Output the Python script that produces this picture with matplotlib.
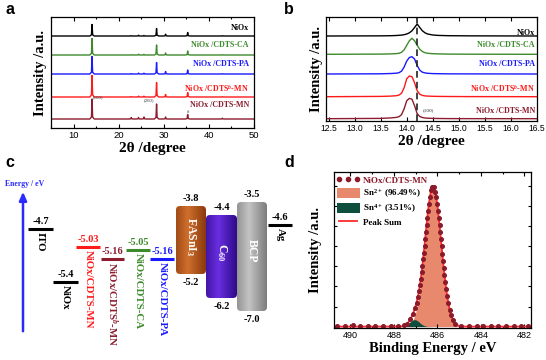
import numpy as np
import matplotlib
matplotlib.use('Agg')
import matplotlib.pyplot as plt
from matplotlib.patches import FancyBboxPatch, Patch
from matplotlib.lines import Line2D
from matplotlib import transforms as mtransforms
from matplotlib.ticker import MultipleLocator, NullFormatter
import matplotlib.colors as mcolors

plt.rcParams['mathtext.fontset'] = 'custom'
plt.rcParams['mathtext.rm'] = 'Liberation Serif:bold'
plt.rcParams['mathtext.it'] = 'Liberation Serif:bold:italic'
plt.rcParams['mathtext.bf'] = 'Liberation Serif:bold'
plt.rcParams['axes.linewidth'] = 0.9

SERIF = 'Liberation Serif'
SANS = 'Liberation Sans'

# ---------------- data ----------------
# panel a : XRD
xrd_labels = ['NiOx', 'NiOx /CDTS-CA', 'NiOx /CDTS-PA', 'NiOx /CDTS$^{b}$-MN', 'NiOx /CDTS-MN']
xrd_colors = ['#000000', '#3d8a2c', '#1a1aff', '#ff1a1a', '#8c1c2e']
xrd_offsets = [92, 73, 54, 31, 9]
xrd_peaks = [14.1, 22.8, 24.4, 25.6, 28.4, 30.4, 35.3, 43.0]
h_nio = [11.5, 0.3, 0.8, 0.5, 7.5, 1.8, 3.5, 0.3]
h_ca = [16.5, 0.3, 0.8, 0.6, 10.0, 2.0, 4.0, 0.3]
h_pa = [17.5, 0.4, 0.9, 0.8, 11.5, 2.5, 4.0, 0.3]
h_mnb = [21.5, 0.4, 0.9, 0.8, 14.5, 2.5, 4.5, 0.3]
h_mn = [20.0, 1.5, 1.5, 2.0, 15.0, 2.0, 4.5, 0.8]
xrd_heights = [h_nio, h_ca, h_pa, h_mnb, h_mn]

# panel b : zoom on (100)
b_x = [12.45, 13.5, 13.7, 13.8, 13.85, 13.9, 13.95, 14.0, 14.05, 14.1, 14.15, 14.2,
       14.25, 14.3, 14.35, 14.4, 14.5, 14.6, 14.8, 15.2, 16.5]
b_nio = [0, 0.15, 0.3, 0.5, 0.7, 0.9, 1.3, 2.0, 3.2, 5.2, 8.5, 12.0, 8.5, 5.2, 3.2, 2.0, 1.0, 0.6, 0.3, 0.15, 0]
b_ca = [0, 0.2, 0.4, 0.7, 1.0, 2.0, 4.5, 9.0, 13.5, 16.0, 13.5, 9.0, 5.0, 2.8, 1.6, 1.0, 0.6, 0.4, 0.2, 0.1, 0]
b_pa = [0, 0.2, 0.5, 0.8, 1.3, 2.8, 7.0, 13.0, 16.5, 17.3, 15.0, 8.5, 3.8, 1.8, 1.1, 0.7, 0.4, 0.3, 0.15, 0.1, 0]
b_mnb = [0, 0.3, 0.6, 1.0, 1.6, 3.5, 9.0, 18.0, 20.7, 20.0, 14.0, 6.0, 2.5, 1.3, 0.8, 0.6, 0.4, 0.3, 0.2, 0.1, 0]
b_mn = [0, 0.3, 0.8, 1.3, 2.0, 4.0, 10.0, 18.0, 20.3, 19.5, 13.0, 5.0, 2.2, 1.2, 0.7, 0.5, 0.3, 0.2, 0.1, 0.05, 0]
b_series = [b_nio, b_ca, b_pa, b_mnb, b_mn]
b_offsets = [85, 66.7, 47, 24.3, 2.3]
ref_100 = 14.2

# panel c : energy levels
lvl_names = ['ITO', 'NiOx', 'NiOx/CDTS-MN', 'NiOx/CDTS$^{b}$-MN', 'NiOx/CDTS-CA', 'NiOx/CDTS-PA', 'Ag']
lvl_E = [-4.7, -5.4, -5.03, -5.16, -5.05, -5.16, -4.6]
lvl_colors = ['#000000', '#000000', '#ff1a1a', '#8c1c2e', '#3d8a2c', '#1a1aff', '#000000']
box_names = ['FASnI$_3$', 'C$_{60}$', 'BCP']
box_top = [-3.8, -4.4, -3.5]
box_bot = [-5.2, -6.2, -7.0]

# panel d : XPS Sn 3d
dot_x = [490.6, 490.25, 489.9, 489.55, 489.2, 488.85, 488.5, 488.15, 487.8, 487.55,
         487.4, 487.24, 487.12, 487.03, 486.96, 486.90, 486.84, 486.80, 486.76, 486.72,
         486.69, 486.66, 486.62, 486.59, 486.56, 486.53, 486.50, 486.47, 486.43, 486.40,
         486.35, 486.29, 486.24, 486.15, 486.09, 486.05, 486.00, 485.97, 485.93, 485.90,
         485.87, 485.84, 485.81, 485.78, 485.75, 485.71, 485.68, 485.64, 485.60, 485.56,
         485.50, 485.44, 485.37, 485.28, 485.17, 484.9, 484.55, 484.2, 483.9, 483.55,
         483.2, 482.85, 482.5, 482.15, 481.85]
dot_y = [0.003, 0.004, 0.012, 0.005, 0.003, 0.003, 0.004, 0.003, 0.006, 0.010,
         0.019, 0.054, 0.093, 0.13, 0.166, 0.21, 0.252, 0.296, 0.341, 0.386,
         0.433, 0.48, 0.527, 0.57, 0.62, 0.67, 0.72, 0.77, 0.82, 0.87,
         0.92, 0.97, 0.995, 0.995, 0.96, 0.92, 0.87, 0.82, 0.77, 0.72,
         0.67, 0.62, 0.57, 0.52, 0.47, 0.42, 0.37, 0.32, 0.27, 0.22,
         0.17, 0.12, 0.08, 0.045, 0.02, 0.004, 0.003, 0.004, 0.003, 0.005,
         0.004, 0.003, 0.005, 0.004, 0.003]
fit_x = [490.8, 487.8, 487.7, 487.6, 487.5, 487.4, 487.3, 487.2, 487.1, 487.0, 486.9,
         486.8, 486.7, 486.6, 486.5, 486.4, 486.3, 486.2, 486.1, 486.0, 485.9, 485.8,
         485.7, 485.6, 485.5, 485.4, 485.3, 485.2, 485.1, 485.0, 484.9, 484.8, 484.7,
         484.6, 481.6]
sn2_fit = [0, 0.0001, 0.0003, 0.0008, 0.0021, 0.0052, 0.0121, 0.026, 0.052, 0.097, 0.167,
           0.269, 0.401, 0.558, 0.720, 0.864, 0.964, 1.0, 0.964, 0.864, 0.720, 0.558,
           0.401, 0.269, 0.167, 0.097, 0.052, 0.026, 0.0121, 0.0052, 0.0021, 0.0008, 0.0003,
           0.0001, 0]
sn4_fit = [0, 0.0002, 0.0006, 0.0022, 0.006, 0.014, 0.026, 0.040, 0.049, 0.049, 0.040,
           0.026, 0.014, 0.006, 0.0022, 0.0006, 0.0002, 0, 0, 0, 0, 0,
           0, 0, 0, 0, 0, 0, 0, 0, 0, 0, 0, 0, 0]
sn2_label = 'Sn$^{2+}$ (96.49%)'
sn4_label = 'Sn$^{4+}$ (3.51%)'

# ---------------- layout ----------------
W, H = 546, 360
fig = plt.figure(figsize=(W / 100, H / 100), dpi=100)
fig.patch.set_facecolor('white')


def px_axes(left, top, right, bottom):
    return fig.add_axes([left / W, 1 - bottom / H, (right - left) / W, (bottom - top) / H])


def style_ticks(ax, size):
    ax.tick_params(axis='both', which='both', direction='in', top=True, right=False,
                   labelsize=size, width=0.8, pad=2.5)
    ax.tick_params(which='major', length=3)
    ax.tick_params(which='minor', length=1.6)
    for t in ax.get_xticklabels():
        t.set_fontfamily(SANS)


lab_font = dict(family=SERIF, weight='bold')

# ---- panel a ----
ax_a = px_axes(51, 17, 254, 128)
for lab, col, off, hs in zip(xrd_labels, xrd_colors, xrd_offsets, xrd_heights):
    xs, ys = [5.0], [0.0]
    for p, h in zip(xrd_peaks, hs):
        xs += [p - 0.5, p - 0.13, p, p + 0.13, p + 0.5]
        ys += [0, 0.1 * h, h, 0.1 * h, 0]
    xs.append(50.0)
    ys.append(0.0)
    ax_a.plot(xs, np.array(ys) + off, color=col, lw=1.0)
ax_a.set_xlim(5, 50)
ax_a.set_ylim(0, 111)
ax_a.set_yticks([])
ax_a.xaxis.set_major_locator(MultipleLocator(10))
ax_a.xaxis.set_minor_locator(MultipleLocator(5))
style_ticks(ax_a, 6.8)
a_text_y = [100.3, 82.7, 63.7, 40, 22.7]
for lab, col, ty in zip(xrd_labels, xrd_colors, a_text_y):
    ax_a.text(0.975, ty, lab, color=col, ha='right', va='center', fontsize=5.8,
              transform=mtransforms.blended_transform_factory(ax_a.transAxes, ax_a.transData),
              **lab_font)
ax_a.text(14.2, 28.5, '(100)', fontsize=3.5, family=SERIF, va='bottom', ha='left', color='#333333')
ax_a.text(27.9, 26, '(200)', fontsize=3.5, family=SERIF, va='bottom', ha='right', color='#333333')
ax_a.text(35.3, 14.5, '#', fontsize=3.5, family=SERIF, va='bottom', ha='center', color='#333333')
ax_a.set_xlabel('2θ /degree', fontsize=11, labelpad=1, **lab_font)
ax_a.set_ylabel('Intensity /a.u.', fontsize=10.5, labelpad=3, **lab_font)

# ---- panel b ----
ax_b = px_axes(326, 17, 537, 121)
for col, off, ys in zip(xrd_colors, b_offsets, b_series):
    ax_b.plot(b_x, np.array(ys) + off, color=col, lw=1.0)
ax_b.axvline(ref_100, color='#222222', lw=1.2, ls=(0, (4, 2.5)))
ax_b.set_xlim(12.45, 16.5)
ax_b.set_ylim(0, 104)
ax_b.set_yticks([])
ax_b.xaxis.set_major_locator(MultipleLocator(0.5))
style_ticks(ax_b, 6.2)
b_text_y = [88.3, 75.7, 56.7, 33, 10.3]
for lab, col, ty in zip(xrd_labels, xrd_colors, b_text_y):
    ax_b.text(0.99, ty, lab, color=col, ha='right', va='center', fontsize=5.8,
              transform=mtransforms.blended_transform_factory(ax_b.transAxes, ax_b.transData),
              **lab_font)
ax_b.text(14.3, 11.3, '(100)', fontsize=3.8, family=SERIF, va='center', ha='left', color='#333333')
ax_b.set_xlabel('2θ /degree', fontsize=11, labelpad=1, **lab_font)
ax_b.set_ylabel('Intensity /a.u.', fontsize=10.5, labelpad=2.5, **lab_font)

# ---- panel c ----
ax_c = px_axes(0, 170, 300, 350)
ax_c.set_axis_off()
E_knots = np.array([-10, -7.0, -6.2, -5.4, -5.2, -5.16, -5.05, -5.03, -4.7, -4.6, -4.4, -3.8, -3.5, -1.0])
Y_knots = np.array([380, 311, 298, 282, 274, 259, 250, 247, 229, 225, 215, 206, 202, 160], dtype=float)


def e_fwd(e):
    return -np.interp(e, E_knots, Y_knots)


def e_inv(t):
    return np.interp(-np.asarray(t), Y_knots[::-1], E_knots[::-1])


ax_c.set_yscale('function', functions=(e_fwd, e_inv))
ax_c.set_xlim(0, 300)
ax_c.set_ylim(float(e_inv(-350)), float(e_inv(-170)))

lvl_x = [(28, 53), (53, 78), (76, 100), (101, 124), (126, 150), (150, 174), (268, 292)]
for name, E, col, (x0, x1) in zip(lvl_names, lvl_E, lvl_colors, lvl_x):
    ax_c.plot([x0, x1], [E, E], color=col, lw=2.2, solid_capstyle='butt')
    xm = 0.5 * (x0 + x1)
    ax_c.annotate('%g' % E, (xm, E), xytext=(0, 2), textcoords='offset points',
                  ha='center', va='bottom', fontsize=7.5, color=col, **lab_font)
    ax_c.annotate(name, (xm, E), xytext=(0, -2.5), textcoords='offset points',
                  ha='center', va='top', rotation=-90, fontsize=7.8, color=col, **lab_font)

# energy arrow
ax_c.annotate('', xy=(23 / 300, (350 - 189) / 180), xytext=(23 / 300, (350 - 334) / 180),
              xycoords='axes fraction', textcoords='axes fraction',
              arrowprops=dict(arrowstyle='-|>,head_length=0.5,head_width=0.22', color='#2a2aff', lw=1.8))
ax_c.text(25 / 300, (350 - 184) / 180, 'Energy / eV', transform=ax_c.transAxes, ha='center',
          va='center', fontsize=5.6, color='#2a2aff', **lab_font)

box_x = [(176, 206), (206, 237), (237, 267)]
box_cols = [('#8a3a0e', '#cf6f2c'), ('#2e0a8a', '#6a2ee0'), ('#7c7c7c', '#c4c4c4')]
for name, et, eb, (x0, x1), (ce, cm) in zip(box_names, box_top, box_bot, box_x, box_cols):
    p0 = ax_c.transData.transform((x0, et))
    p1 = ax_c.transData.transform((x1, eb))
    left, right = p0[0], p1[0]
    top, bottom = p0[1], p1[1]
    bax = fig.add_axes([left / W, bottom / H, (right - left) / W, (top - bottom) / H])
    bax.set_axis_off()
    t = np.linspace(0, 1, 64)
    prof = np.clip(1 - np.abs(t - 0.4) / 0.6, 0, 1)[:, None]
    c0 = np.array(mcolors.to_rgb(ce))
    c1 = np.array(mcolors.to_rgb(cm))
    grad = (c0[None, :] * (1 - prof) + c1[None, :] * prof)[None, :, :]
    im = bax.imshow(grad, aspect='auto', extent=(0, 1, 0, 1), interpolation='bilinear')
    clip = FancyBboxPatch((left, bottom), right - left, top - bottom,
                          boxstyle='round,pad=0,rounding_size=4',
                          transform=mtransforms.IdentityTransform(),
                          facecolor='none', edgecolor='none')
    im.set_clip_path(clip)
    bax.text(0.5, 0.55, name, rotation=-90, ha='center', va='center', color='white',
             fontsize=8.5, transform=bax.transAxes, **lab_font)
    xm = 0.5 * (x0 + x1)
    ax_c.annotate('%.1f' % et, (xm, et), xytext=(0, 2), textcoords='offset points',
                  ha='center', va='bottom', fontsize=7.5, color='black', **lab_font)
    ax_c.annotate('%.1f' % eb, (xm, eb), xytext=(0, -3), textcoords='offset points',
                  ha='center', va='top', fontsize=7.5, color='black', **lab_font)

# ---- panel d ----
ax_d = px_axes(334, 172, 531, 328)
sn2 = np.array(sn2_fit)
sn4 = np.array(sn4_fit)
ax_d.fill_between(fit_x, 0, sn2, color='#e8886c', lw=0)
ax_d.fill_between(fit_x, 0, sn4, color='#0d4f3c', lw=0)
ax_d.plot(fit_x, sn2 + sn4, color='#ff2a2a', lw=1.3)
ax_d.plot(dot_x, dot_y, 'o', color='#8b1a2a', ms=2.6, ls='none')
ax_d.set_xlim(490.75, 481.7)
ax_d.set_ylim(-0.01, 1.10)
ax_d.xaxis.set_major_locator(MultipleLocator(2))
ax_d.xaxis.set_minor_locator(MultipleLocator(1))
ax_d.yaxis.set_major_locator(MultipleLocator(1 / 7))
ax_d.yaxis.set_major_formatter(NullFormatter())
style_ticks(ax_d, 6.5)
ax_d.tick_params(axis='y', which='both', left=True, right=True, length=2.5)
ax_d.set_xlabel('Binding Energy / eV', fontsize=10.5, labelpad=1, **lab_font)
ax_d.set_ylabel('Intensity /a.u.', fontsize=10.5, labelpad=6, **lab_font)
handles = [Line2D([], [], marker='o', ls='none', color='#8b1a2a', ms=3.0),
           Patch(facecolor='#e8886c', edgecolor='none'),
           Patch(facecolor='#0d4f3c', edgecolor='none'),
           Line2D([], [], color='#ff2a2a', lw=1.3)]
leg = ax_d.legend(handles, ['NiOx/CDTS-MN', sn2_label, sn4_label, 'Peak Sum'],
                  loc='upper left', frameon=False, numpoints=3, handlelength=2.6,
                  handleheight=1.4, labelspacing=0.25, handletextpad=0.3,
                  borderaxespad=0.2, borderpad=0.1,
                  prop=dict(family=SERIF, weight='bold', size=6.5))
leg.get_texts()[0].set_color('#8b1a2a')

# panel letters
for letter, (lx, ly) in zip('abcd', [(10, 10), (289, 9), (10, 163), (289, 163)]):
    fig.text(lx / W, 1 - ly / H, letter, ha='center', va='center', fontsize=11.5,
             weight='bold', family=SANS)

fig.savefig('out.png', dpi=100)
